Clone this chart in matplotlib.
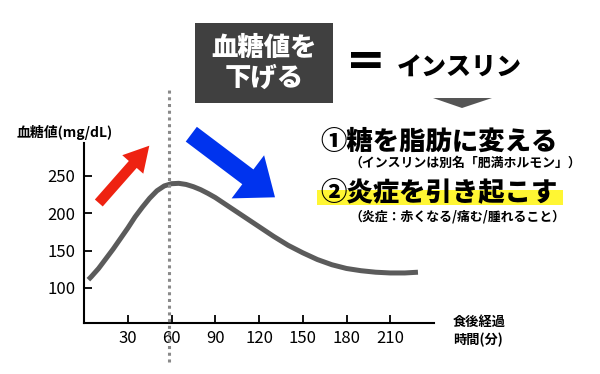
import matplotlib
matplotlib.use("Agg")
import matplotlib.pyplot as plt
from matplotlib.patches import Rectangle, FancyArrow, Polygon

plt.rcParams['font.family'] = ['Noto Sans CJK JP', 'DejaVu Sans']

# blood sugar after a meal
minutes = [3, 5, 10, 15, 20, 25, 30, 35, 40, 45, 50, 55, 60, 65, 70, 75, 80,
           85, 90, 95, 100, 110, 120, 130, 140, 150, 160, 170, 180, 190, 200,
           210, 220, 229]
glucose = [111, 115, 126, 139, 152, 166, 180, 195, 208, 220, 230, 236.5, 239.5,
           240, 238.5, 235.5, 231.5, 226.5, 221, 214.5, 208, 195, 182, 169,
           157, 147, 138, 131, 126, 123, 121, 120, 120, 121]
peak_time = 58

x_ticks = [30, 60, 90, 120, 150, 180, 210]
y_ticks = [100, 150, 200, 250]

fig = plt.figure(figsize=(6, 3.74), dpi=100)

# main axes (pixel box 84..434 x 143..323)
ax = fig.add_axes([84/600, 51/374, 350/600, 180/374])
ax.plot(minutes, glucose, color="#5b5b5b", lw=3.6, solid_capstyle="butt",
        solid_joinstyle="round", zorder=2)
ax.axvline(peak_time, ymin=-0.217, ymax=1.294, color="#8a8a8a", lw=2.2,
           linestyle=(0, (1, 1.2)), clip_on=False, zorder=3)
ax.set_xlim(0, 240)
ax.set_ylim(53, 294)
ax.set_xticks(x_ticks)
ax.set_yticks(y_ticks)
ax.spines[['top', 'right']].set_visible(False)
for s in ['left', 'bottom']:
    ax.spines[s].set_linewidth(1.5)
ax.tick_params(direction='in', length=6, width=1.3, labelsize=12)
ax.tick_params(axis='y', pad=6)
ax.tick_params(axis='x', pad=5)

# overlay in pixel units for the annotations
ov = fig.add_axes([0, 0, 1, 1])
ov.set_xlim(0, 600)
ov.set_ylim(374, 0)
ov.axis('off')

ov.text(17, 132, "血糖値(mg/dL)", fontsize=10, fontweight='bold', va='center', ha='left')
ov.text(453, 322, "食後経過", fontsize=9.5, fontweight='bold', va='center', ha='left')
ov.text(453, 340, "時間(分)", fontsize=9.5, fontweight='bold', va='center', ha='left')

# arrows
ov.add_patch(FancyArrow(98.8, 203, 149.3 - 98.8, 145.7 - 203, width=10.5,
                        head_width=28, head_length=25, length_includes_head=True,
                        color="#ee2211", lw=0))
ov.add_patch(FancyArrow(191.3, 134.2, 275 - 191.3, 197.3 - 134.2, width=18.5,
                        head_width=54, head_length=34, length_includes_head=True,
                        color="#0033ee", lw=0))

# title box
ov.add_patch(Rectangle((195, 23), 138, 80, color="#404040", lw=0))
ov.text(264, 48, "血糖値を", color="white", fontsize=19, fontweight='black',
        ha='center', va='center')
ov.text(264, 78, "下げる", color="white", fontsize=19, fontweight='black',
        ha='center', va='center')
ov.text(366, 62, "=", fontsize=34, fontweight='bold', ha='center', va='center',
        family=['DejaVu Sans'])
ov.text(397, 67, "インスリン", fontsize=18, fontweight='black', ha='left', va='center')
ov.add_patch(Polygon([(433, 98), (492, 98), (462, 108)], color="#555555", lw=0))

# effects
ov.add_patch(Rectangle((317, 190), 246, 15, color="#fff633", lw=0, zorder=0))
ov.text(320, 142, "①糖を脂肪に変える", fontsize=19, fontweight='black',
        ha='left', va='center', zorder=2)
ov.text(349, 163, "（インスリンは別名「肥満ホルモン」）", fontsize=9.3,
        fontweight='bold', ha='left', va='center')
ov.text(320, 192, "②炎症を引き起こす", fontsize=19, fontweight='black',
        ha='left', va='center', zorder=2)
ov.text(349, 216, "（炎症：赤くなる/痛む/腫れること）", fontsize=9.3,
        fontweight='bold', ha='left', va='center')

fig.savefig("out.png", dpi=100)
